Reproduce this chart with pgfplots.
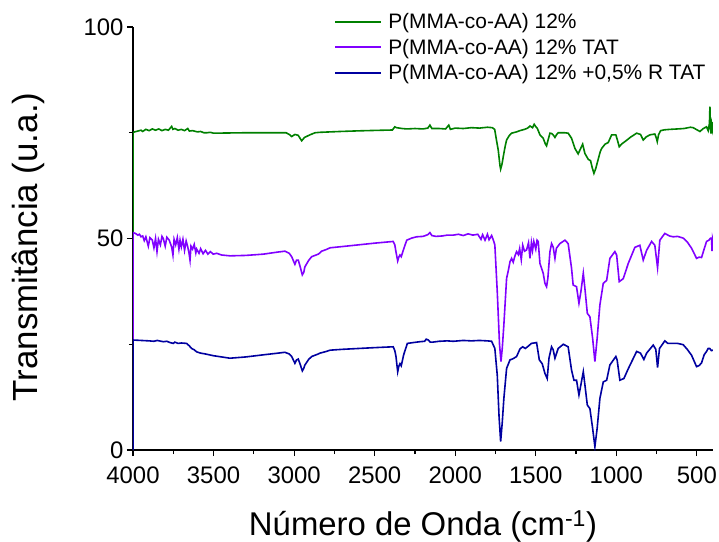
\documentclass[border=0pt]{standalone}
\usepackage{fontspec}
\setmainfont{Liberation Sans}
\usepackage{pgfplots}
\pgfplotsset{compat=1.18}
\definecolor{cgreen}{RGB}{0,128,0}
\definecolor{cpurple}{RGB}{128,0,255}
\definecolor{cblue}{RGB}{0,0,160}
\begin{document}
\begin{tikzpicture}
\begin{axis}[
  scale only axis, width=580bp, height=423bp,
  x dir=reverse, xmin=400, xmax=4000, ymin=0, ymax=100,
  axis x line*=bottom, axis y line*=left,
  axis line style={line width=1.3bp, -},
  xtick={500,1000,...,4000}, minor xtick={750,1250,...,3750},
  ytick={0,50,100}, minor ytick={25,75},
  tick align=outside, major tick length=6bp, minor tick length=4bp,
  every tick/.style={line width=1.2bp, black},
  tick label style={font=\fontsize{24}{28}\selectfont},
  xticklabel style={yshift=-7bp},
  /pgf/number format/assume math mode=true,
  /pgf/number format/1000 sep={},
  xlabel={Número de Onda (cm\textsuperscript{-1})},
  ylabel={Transmitância (u.a.)},
  xlabel style={font=\fontsize{33}{38}\selectfont, at={(axis description cs:0.5,-0.201)}, anchor=base},
  ylabel style={font=\fontsize{35}{40}\selectfont, at={(axis description cs:-0.181,0.48)}, anchor=center},
  legend style={at={(axis description cs:0.347,1.035)}, anchor=north west, draw=none, fill=none,
    font=\fontsize{21}{25}\selectfont, inner sep=0bp, row sep=7bp, nodes={inner sep=1bp},
    /tikz/every odd column/.append style={column sep=5bp}},
  legend cell align=left,
  legend image code/.code={\draw[#1, line width=1.8bp] (0bp,0bp) -- (46bp,0bp);},
  every axis plot/.append style={line width=1.6bp},
]
\addplot[cgreen] coordinates {
(4000,0)(4000,75.1)(3980,75.3)(3950,75.6)(3940,75.3)(3920,75.8)(3900,75.5)(3880,75.9)(3860,75.6)(3840,75.9)(3820,75.5)(3800,75.8)(3780,75.6)(3760,76.5)(3752,75.8)(3740,76.0)(3720,75.6)(3700,75.8)(3680,75.5)(3660,76.0)(3650,75.4)(3630,75.5)(3600,75.2)(3580,75.3)(3560,75.0)(3541,75.0)(3520,75.1)(3500,74.9)(3300,75.0)(3050,75.0)
(3030,74.6)(3015,74.1)(2995,74.6)(2975,74.4)(2953,73.1)(2935,73.9)(2902,74.5)(2870,75.0)(2840,75.1)(2777,75.2)(2715,75.3)(2600,75.45)(2500,75.55)(2390,75.65)(2375,76.4)(2364,76.2)(2330,76.0)(2300,75.9)(2250,76.0)(2200,75.9)(2170,76.1)(2157,76.8)(2145,76.0)(2100,76.0)(2060,75.9)(2040,76.8)(2030,75.8)(2000,76.1)(1950,76.0)(1900,76.2)(1850,76.1)(1800,76.3)(1770,76.2)(1755,75.8)(1745,73.5)(1733,70.9)(1722,67.2)(1718,66.4)(1710,67.5)(1702,69.3)(1690,71.8)(1681,73.3)(1665,74.3)(1650,74.9)(1620,75.2)(1598,75.5)(1570,75.8)(1550,76.1)(1536,76.6)(1520,76.2)(1510,77.0)(1499,76.4)(1490,76.0)(1474,74.5)(1454,73.7)(1440,72.3)(1433,71.9)(1422,73.5)(1412,74.9)(1400,74.8)(1392,74.5)(1381,73.9)(1370,74.6)(1361,75.0)(1320,75.0)(1299,74.9)(1278,73.7)(1257,71.3)(1237,70.0)(1226,70.9)(1209,72.3)(1195,70.1)(1174,68.7)(1160,68.4)(1150,66.8)(1139,65.4)(1128,66.5)(1119,67.8)(1100,70.5)(1091,71.3)(1070,72.3)(1050,72.7)(1029,74.5)(1003,74.5)(995,73.5)(982,71.7)(965,72.4)(947,72.9)(910,74.0)(874,74.9)(850,74.6)(833,73.3)(815,74.0)(792,74.5)(761,74.7)(752,73.8)(746,72.9)(738,74.5)(725,75.5)(700,75.7)(667,75.8)(620,75.9)(580,76.0)(540,76.3)(523,76.2)(500,75.7)(481,75.3)(460,76.0)(440,76.4)(430,75.5)(422,77.2)(419,81.2)(416,76.0)(412,74.8)(408,77.0)(404,76.0)(401,77.5)(400,76.0)
};
\addlegendentry{P(MMA-co-AA) 12\%}
\addplot[cpurple] coordinates {
(4000,0)(4000,51.4)(3985,51.2)(3970,50.8)(3960,51.0)(3950,50.4)(3940,50.6)(3930,49.5)(3920,50.4)(3905,48.2)(3895,50.2)(3880,49.6)(3870,47.8)(3860,50.0)(3851,46.9)(3842,49.8)(3830,48.5)(3820,50.5)(3812,50.0)(3800,48.2)(3790,50.3)(3775,49.6)(3760,48.0)(3752,46.1)(3745,49.8)(3735,48.5)(3725,50.2)(3715,47.5)(3708,49.6)(3700,48.0)(3690,49.8)(3680,47.2)(3670,49.4)(3660,48.0)(3652,46.5)(3646,44.9)(3640,48.2)(3630,47.5)(3620,48.6)(3610,46.6)(3605,47.5)(3590,46.5)(3580,47.6)(3565,46.4)(3550,47.2)(3535,46.3)(3520,46.9)(3502,46.3)(3480,46.5)(3450,46.1)(3398,45.9)(3300,46.0)(3191,46.3)(3100,46.8)(3057,47.0)(3030,46.5)(3015,45.7)(2995,43.9)(2985,44.9)(2974,44.9)(2960,43.0)(2949,41.4)(2940,42.0)(2933,43.3)(2910,44.8)(2891,45.7)(2850,46.3)(2840,46.6)(2829,47.0)(2800,47.4)(2777,47.8)(2700,48.1)(2600,48.5)(2500,48.9)(2385,49.3)(2375,48.5)(2368,46.9)(2357,44.7)(2350,45.6)(2343,46.1)(2335,45.7)(2320,47.5)(2301,49.6)(2270,50.1)(2240,50.4)(2200,50.5)(2170,50.9)(2157,51.4)(2145,50.7)(2120,50.5)(2080,50.6)(2050,50.8)(2012,50.8)(1980,51.0)(1950,50.7)(1920,51.1)(1890,50.8)(1860,51.0)(1840,49.8)(1830,50.9)(1815,49.6)(1800,51.0)(1790,49.7)(1774,50.7)(1765,49.8)(1754,48.5)(1739,37.4)(1725,25.0)(1716,20.9)(1708,24.0)(1698,29.6)(1681,40.6)(1670,42.5)(1660,44.5)(1650,45.3)(1640,44.4)(1630,45.8)(1619,46.9)(1608,46.2)(1600,47.6)(1590,45.0)(1581,48.4)(1570,47.0)(1557,47.3)(1545,49.0)(1536,45.3)(1527,49.0)(1520,47.2)(1512,49.3)(1500,47.5)(1492,49.6)(1485,49.3)(1474,44.1)(1454,41.8)(1443,39.4)(1433,38.6)(1425,40.6)(1412,46.9)(1402,48.8)(1392,48.0)(1381,45.3)(1372,47.7)(1350,48.8)(1319,49.6)(1299,48.8)(1278,43.0)(1268,39.0)(1247,38.6)(1232,34.7)(1220,37.4)(1205,41.8)(1195,38.2)(1180,32.3)(1164,31.5)(1147,26.4)(1133,20.9)(1119,26.4)(1102,34.3)(1081,39.4)(1060,40.1)(1040,45.3)(1009,46.9)(998,46.1)(982,39.8)(957,40.5)(926,44.1)(885,47.9)(854,48.4)(833,44.9)(812,47.2)(781,49.3)(761,48.4)(744,43.1)(730,49.6)(699,51.2)(670,50.6)(647,50.4)(620,50.5)(585,50.1)(560,49.2)(533,47.7)(502,45.3)(485,45.6)(471,45.5)(455,47.5)(440,49.3)(425,49.6)(415,50.1)(409,50.1)(406,47.0)(403,50.0)(400,49.5)
};
\addlegendentry{P(MMA-co-AA) 12\% TAT}
\addplot[cblue] coordinates {
(4000,0)(4000,26.0)(3950,25.9)(3900,25.8)(3870,25.7)(3850,25.9)(3812,25.6)(3790,25.7)(3770,25.4)(3750,25.2)(3740,25.5)(3720,25.2)(3700,25.3)(3667,25.2)(3650,24.6)(3636,24.0)(3620,23.7)(3605,23.2)(3580,22.9)(3550,22.7)(3502,22.3)(3450,22.0)(3398,21.7)(3300,22.0)(3191,22.5)(3100,22.9)(3057,23.1)(3030,22.7)(3015,22.1)(2995,20.5)(2985,21.3)(2974,21.5)(2960,20.0)(2949,18.7)(2940,19.3)(2933,20.1)(2910,21.4)(2891,22.1)(2850,22.7)(2840,22.9)(2829,23.0)(2800,23.3)(2777,23.6)(2700,23.8)(2600,24.0)(2500,24.2)(2385,24.4)(2375,23.5)(2368,22.2)(2357,18.5)(2350,19.8)(2343,20.4)(2335,19.9)(2320,22.5)(2297,25.2)(2260,25.4)(2219,25.6)(2190,25.7)(2180,26.2)(2167,26.0)(2155,25.5)(2140,25.5)(2100,25.7)(2050,25.8)(2012,25.7)(1950,25.9)(1900,25.8)(1850,25.9)(1800,25.8)(1774,25.7)(1754,24.0)(1739,17.7)(1728,8.0)(1718,2.0)(1708,6.5)(1698,12.2)(1681,19.3)(1660,21.3)(1640,21.6)(1619,22.1)(1598,23.9)(1581,24.4)(1565,24.0)(1545,24.6)(1527,25.2)(1495,25.4)(1478,21.3)(1460,20.4)(1443,18.1)(1429,16.9)(1418,21.7)(1402,24.4)(1392,23.7)(1381,21.7)(1361,24.0)(1329,25.0)(1299,24.4)(1278,18.9)(1263,16.5)(1247,16.5)(1232,13.0)(1220,15.4)(1205,18.5)(1195,15.4)(1180,10.6)(1164,9.8)(1147,5.1)(1133,0.8)(1119,5.1)(1102,12.2)(1081,16.1)(1060,16.5)(1040,20.1)(1003,22.1)(995,21.3)(978,16.5)(953,16.9)(926,19.2)(874,23.3)(850,22.9)(829,21.4)(812,22.9)(771,24.8)(755,23.8)(744,19.5)(732,24.0)(699,25.8)(680,25.2)(647,25.2)(620,25.2)(585,24.9)(560,23.8)(533,22.4)(502,19.7)(485,20.0)(471,20.6)(455,22.5)(440,23.3)(430,24.0)(420,24.0)(410,23.5)(400,23.6)
};
\addlegendentry{P(MMA-co-AA) 12\% +0,5\% R TAT}
\end{axis}
\pgfresetboundingbox
\useasboundingbox (-133bp,-92bp) rectangle (586bp,450bp);
\end{tikzpicture}
\end{document}
